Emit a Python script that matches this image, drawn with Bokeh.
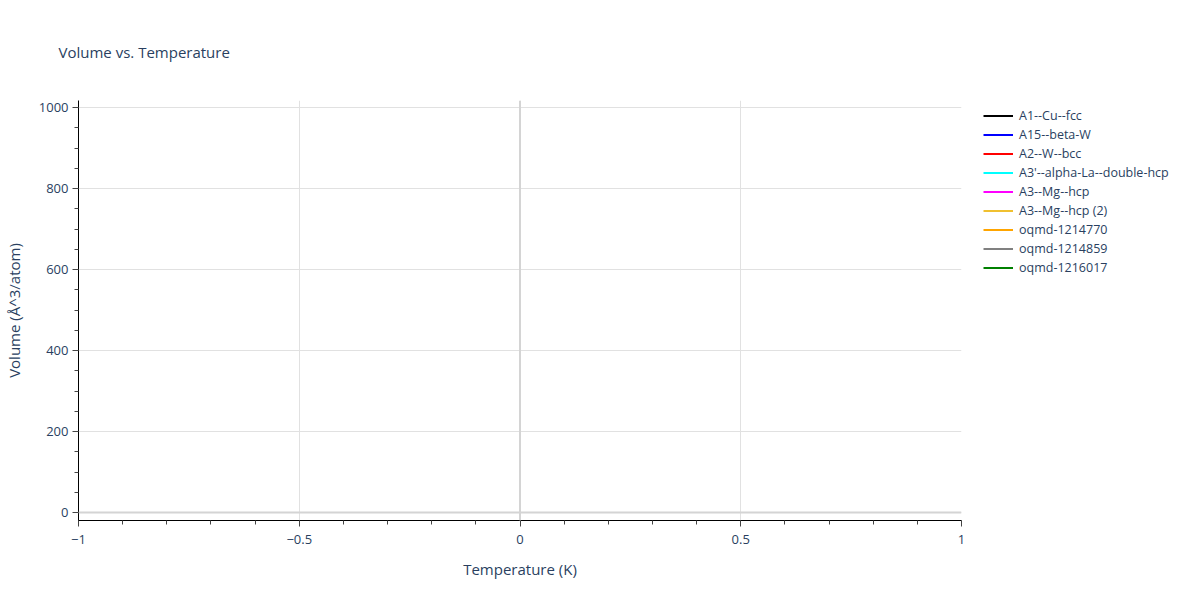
from bokeh.plotting import figure
from bokeh.models import (Range1d, Legend, LegendItem, Span, FixedTicker, Title)
from bokeh.embed import file_html
from bokeh.resources import INLINE

# ---- data: the reference shows no drawn points for any series (no readable values) ----
nan = float("nan")
series_names = ["A1--Cu--fcc", "A15--beta-W", "A2--W--bcc", "A3'--alpha-La--double-hcp",
                "A3--Mg--hcp", "A3--Mg--hcp (2)", "oqmd-1214770", "oqmd-1214859", "oqmd-1216017"]
series_colors = ["black", "blue", "red", "cyan", "magenta", "#f0c030", "orange", "gray", "green"]
temperatures = [[nan] for _ in series_names]
volumes = [[nan] for _ in series_names]

x_ticks = [-1, -0.5, 0, 0.5, 1]
x_tick_labels = ["\u22121", "\u22120.5", "0", "0.5", "1"]
y_ticks = [0, 200, 400, 600, 800, 1000]

FONT = "Open Sans"
TXT = "#2a3f5f"

p = figure(frame_width=883, frame_height=420, output_backend="svg", toolbar_location=None,
           x_range=Range1d(-1, 1), y_range=Range1d(-19.75, 1017.3),
           min_border_left=78, min_border_right=0, min_border_top=99, min_border_bottom=64)
p.outline_line_color = None
p.background_fill_color = "white"

p.title = Title(text="Volume vs. Temperature", text_font=FONT, text_font_size="15px",
                text_color=TXT, text_font_style="normal", offset=-20, standoff=78,
                text_line_height=1.0)
p.title_location = "above"

for ax in (p.xaxis[0], p.yaxis[0]):
    ax.axis_line_color = "#000000"
    ax.axis_line_width = 1
    ax.major_tick_line_color = "#444444"
    ax.minor_tick_line_color = "#444444"
    ax.major_tick_out = 6
    ax.major_tick_in = 0
    ax.minor_tick_out = 4
    ax.minor_tick_in = 0
    ax.major_label_text_font = FONT
    ax.major_label_text_font_size = "13px"
    ax.major_label_text_color = TXT
    ax.axis_label_text_font = FONT
    ax.axis_label_text_font_size = "15px"
    ax.axis_label_text_color = TXT
    ax.axis_label_text_font_style = "normal"

p.xaxis.axis_label = "Temperature (K)"
p.yaxis.axis_label = "Volume (\u00c5^3/atom)"
p.xaxis.ticker = FixedTicker(ticks=x_ticks, minor_ticks=[i / 10 for i in range(-10, 11)])
p.yaxis.ticker = FixedTicker(ticks=y_ticks, minor_ticks=list(range(0, 1001, 50)))
p.xaxis.major_label_overrides = {t: l for t, l in zip(x_ticks, x_tick_labels)}
p.xaxis.major_label_standoff = 8
p.yaxis.major_label_standoff = 4
p.xaxis.axis_label_standoff = 12
p.yaxis.axis_label_standoff = 12

p.xgrid.grid_line_color = "#e1e1e1"
p.ygrid.grid_line_color = "#e1e1e1"
p.xgrid.ticker = FixedTicker(ticks=x_ticks)
p.ygrid.ticker = FixedTicker(ticks=y_ticks)

p.add_layout(Span(location=0, dimension="height", line_color="#d4d4d4", line_width=2))
p.add_layout(Span(location=0, dimension="width", line_color="#d4d4d4", line_width=2))

items = []
for name, color, xs, ys in zip(series_names, series_colors, temperatures, volumes):
    r = p.line(x=xs, y=ys, line_color=color, line_width=2)
    items.append(LegendItem(label=name, renderers=[r]))

legend = Legend(items=items, location=(22, 244), orientation="vertical",
                label_text_font=FONT, label_text_font_size="12.5px", label_text_color=TXT,
                glyph_width=30, glyph_height=17, label_height=17, spacing=2,
                label_standoff=6, padding=0, margin=0,
                background_fill_alpha=0, border_line_color=None)
p.add_layout(legend, "right")

open("out.html", "w").write(file_html(p, INLINE))
